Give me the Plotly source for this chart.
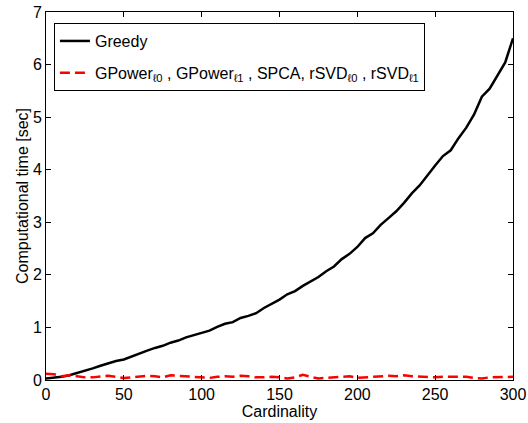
import plotly.graph_objects as go

cardinality = list(range(0, 301, 5))
greedy = [0.03, 0.04, 0.06, 0.09, 0.13, 0.17, 0.22, 0.27, 0.32, 0.36,
          0.39, 0.45, 0.50, 0.56, 0.61, 0.65, 0.71, 0.75, 0.81, 0.85,
          0.89, 0.94, 1.01, 1.07, 1.10, 1.18, 1.22, 1.27, 1.37, 1.45,
          1.53, 1.63, 1.69, 1.79, 1.88, 1.96, 2.07, 2.16, 2.30, 2.40,
          2.53, 2.70, 2.79, 2.95, 3.08, 3.21, 3.37, 3.55, 3.70, 3.90,
          4.08, 4.26, 4.37, 4.60, 4.80, 5.05, 5.39, 5.54, 5.79, 6.04,
          6.50]
others = [0.12, 0.11, 0.07, 0.09, 0.07, 0.05, 0.05, 0.07, 0.08, 0.06,
          0.04, 0.05, 0.07, 0.08, 0.07, 0.05, 0.09, 0.08, 0.06, 0.05,
          0.04, 0.04, 0.06, 0.07, 0.06, 0.08, 0.07, 0.05, 0.05, 0.06,
          0.05, 0.03, 0.05, 0.10, 0.06, 0.03, 0.04, 0.05, 0.06, 0.07,
          0.04, 0.05, 0.06, 0.08, 0.08, 0.07, 0.09, 0.07, 0.06, 0.05,
          0.05, 0.06, 0.06, 0.05, 0.06, 0.04, 0.03, 0.05, 0.05, 0.06,
          0.06]
x_ticks = [0, 50, 100, 150, 200, 250, 300]
y_ticks = [0, 1, 2, 3, 4, 5, 6, 7]

FONT = "Liberation Sans, Arial, sans-serif"

fig = go.Figure()
fig.add_trace(go.Scatter(x=cardinality, y=greedy, mode="lines", name="Greedy",
                         legendgroup="a",
                         line=dict(color="black", width=2.5)))
fig.add_trace(go.Scatter(x=cardinality, y=others, mode="lines",
                         name="GPower<sub>ℓ0</sub> , GPower<sub>ℓ1</sub> , SPCA, rSVD<sub>ℓ0</sub> , rSVD<sub>ℓ1</sub>",
                         legendgroup="b",
                         line=dict(color="red", width=2.5, dash="10px,5px")))

axis_common = dict(showline=True, linecolor="black", linewidth=1, mirror="ticks",
                   ticks="inside", ticklen=5, tickcolor="black", showgrid=False,
                   zeroline=False, automargin=False,
                   tickfont=dict(size=16, color="black", family=FONT))

fig.update_layout(
    width=528, height=423,
    margin=dict(l=46, r=15, t=12, b=43),
    paper_bgcolor="white", plot_bgcolor="white",
    font=dict(family=FONT, color="black"),
    xaxis=dict(range=[0, 300], tickvals=x_ticks, **axis_common,
               title=dict(text="Cardinality", font=dict(size=16), standoff=0)),
    yaxis=dict(range=[0, 7], tickvals=y_ticks, **axis_common,
               title=dict(text="Computational time [sec]", font=dict(size=16), standoff=0)),
    showlegend=True,
    legend=dict(x=0.017, y=0.97, xanchor="left", yanchor="top",
                bgcolor="white", bordercolor="black", borderwidth=1,
                font=dict(size=16, family=FONT), tracegroupgap=8,
                traceorder="grouped"),
)

fig.write_html("out.html", config={"displayModeBar": False},
               post_script="document.body.style.margin='0';document.body.style.overflow='hidden';")
